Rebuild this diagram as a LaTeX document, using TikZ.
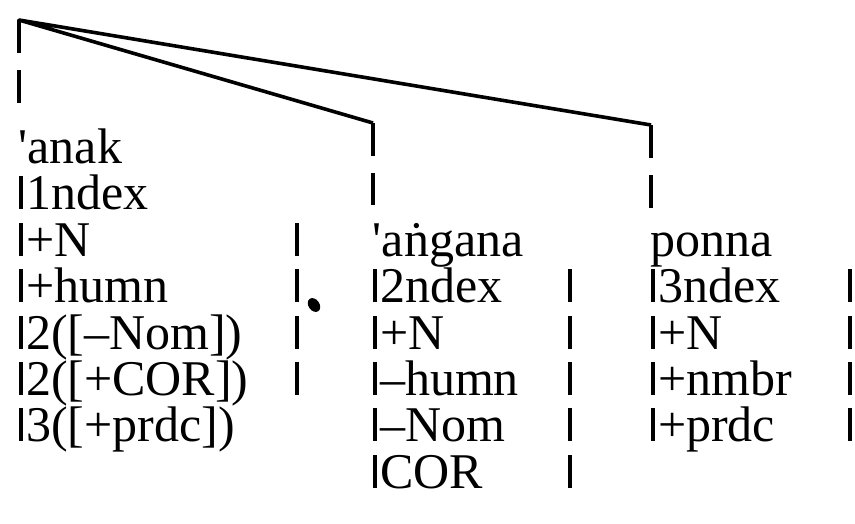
\documentclass[tikz,border=0pt]{standalone}
\usepackage{fontspec}
\setmainfont{Liberation Serif}
\newcommand{\colbar}{\rule{0.075em}{0.66em}\hspace{0.07em}}
\begin{document}
\begin{tikzpicture}[x=1pt, y=-1pt, line width=3.6pt,
    word/.style={anchor=base west, inner sep=0pt, font=\fontsize{50}{50}\selectfont},
    stem/.style={dash pattern=on 33pt off 17pt},
    rbar/.style={line width=3.8pt}]
        \useasboundingbox (0,0) rectangle (855,523);
        % tree
        \coordinate (root) at (19,20);
        \coordinate (k2) at (373,123);
        \coordinate (k3) at (651,125);
        % columns of closing bars
        \coordinate (e1) at (297,0);
        \coordinate (e2) at (570,0);
        \coordinate (e3) at (850,0);
        % first column
        \node[word] (w1) at (17,163) {\textquotesingle anak};
        \node[word] (a1) at (17,209) {\colbar 1ndex};
        \node[word] (a2) at (17,256) {\colbar +N};
        \node[word] (a3) at (17,302) {\colbar +humn};
        \node[word] (a4) at (17,349) {\colbar 2([–Nom])};
        \node[word] (a5) at (17,395) {\colbar 2([+COR])};
        \node[word] (a6) at (17,441) {\colbar 3([+prdc])};
        % second column
        \node[word] (w2) at (371,256) {\textquotesingle aṅgana};
        \node[word] (b1) at (371,302) {\colbar 2ndex};
        \node[word] (b2) at (371,349) {\colbar +N};
        \node[word] (b3) at (371,395) {\colbar –humn};
        \node[word] (b4) at (371,441) {\colbar –Nom};
        \node[word] (b5) at (371,488) {\colbar COR};
        % third column
        \node[word] (w3) at (649,256) {ponna};
        \node[word] (c1) at (649,302) {\colbar 3ndex};
        \node[word] (c2) at (649,349) {\colbar +N};
        \node[word] (c3) at (649,395) {\colbar +nmbr};
        \node[word] (c4) at (649,441) {\colbar +prdc};
        % branches
        \draw[line join=round] (k2) -- (root) -- (k3);
        \draw[stem, shorten >=24pt] (root) -- (root |- w1.north);
        \draw[stem, shorten >=16pt] (k2) -- (k2 |- w2.north);
        \draw[stem, shorten >=16pt] (k3) -- (k3 |- w3.north);
        % closing bars
        \draw[rbar] (a2.base -| e1) -- ++(0,-33);
        \draw[rbar] (a3.base -| e1) -- ++(0,-33);
        \draw[rbar] (a4.base -| e1) -- ++(0,-33);
        \draw[rbar] (a5.base -| e1) -- ++(0,-33);
        \draw[rbar] (b1.base -| e2) -- ++(0,-33);
        \draw[rbar] (b2.base -| e2) -- ++(0,-33);
        \draw[rbar] (b3.base -| e2) -- ++(0,-33);
        \draw[rbar] (b4.base -| e2) -- ++(0,-33);
        \draw[rbar] (b5.base -| e2) -- ++(0,-33);
        \draw[rbar] (c1.base -| e3) -- ++(0,-33);
        \draw[rbar] (c2.base -| e3) -- ++(0,-33);
        \draw[rbar] (c3.base -| e3) -- ++(0,-33);
        \draw[rbar] (c4.base -| e3) -- ++(0,-33);
        % ink spot
        \fill[rotate around={35:(314,305)}] (314,305) ellipse (5.5 and 7.5);
    \end{tikzpicture}
\end{document}
